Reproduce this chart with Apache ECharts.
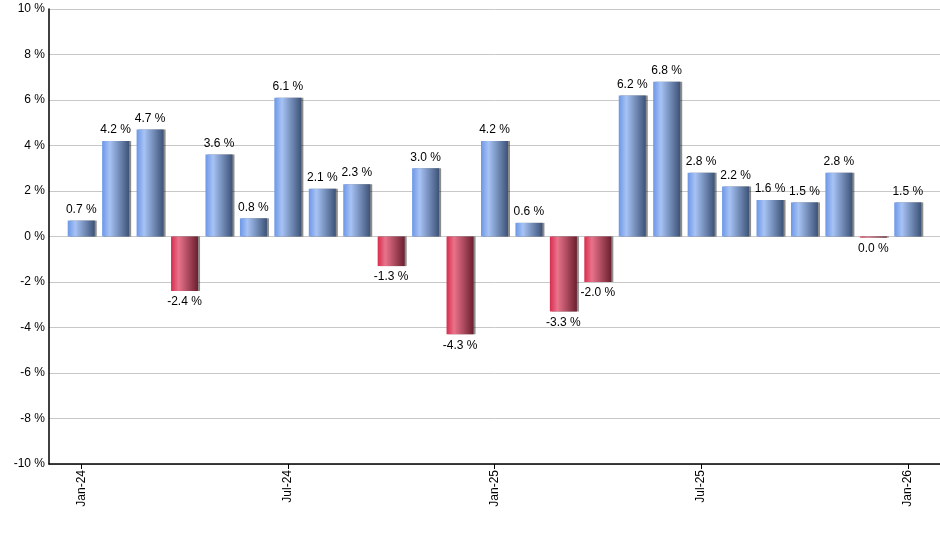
<!DOCTYPE html>
<html>
<head>
<meta charset="utf-8">
<script src="https://cdn.jsdelivr.net/npm/echarts@6/dist/echarts.min.js"></script>
<style>
  html, body { margin: 0; padding: 0; background: #fff; }
  #chart { width: 940px; height: 550px; }
</style>
</head>
<body>
<div id="chart"></div>
<script>
var months = ['Jan-24', 'Feb-24', 'Mar-24', 'Apr-24', 'May-24', 'Jun-24', 'Jul-24', 'Aug-24', 'Sep-24', 'Oct-24', 'Nov-24', 'Dec-24',
  'Jan-25', 'Feb-25', 'Mar-25', 'Apr-25', 'May-25', 'Jun-25', 'Jul-25', 'Aug-25', 'Sep-25', 'Oct-25', 'Nov-25', 'Dec-25', 'Jan-26'];
var returns = [0.7, 4.2, 4.7, -2.4, 3.6, 0.8, 6.1, 2.1, 2.3, -1.3, 3.0, -4.3,
  4.2, 0.6, -3.3, -2.0, 6.2, 6.8, 2.8, 2.2, 1.6, 1.5, 2.8, -0.05, 1.5];
var yMin = -10, yMax = 10, yStep = 2;

var dom = document.getElementById('chart');
var myChart = echarts.init(dom, null, { renderer: 'canvas' });

var blueFill = new echarts.graphic.LinearGradient(0, 0, 1, 0, [
  { offset: 0, color: '#6c96e6' },
  { offset: 0.28, color: '#a7c3f5' },
  { offset: 1, color: '#3c5277' }
]);
var redFill = new echarts.graphic.LinearGradient(0, 0, 1, 0, [
  { offset: 0, color: '#d62c4d' },
  { offset: 0.28, color: '#e9738b' },
  { offset: 1, color: '#6b1f2f' }
]);

function fmt(v) {
  return (Math.round(v * 10) / 10).toFixed(1) + ' %';
}

var barData = returns.map(function (v) {
  return {
    value: v,
    itemStyle: { color: v < 0 ? redFill : blueFill },
    label: { position: v < 0 ? 'bottom' : 'top' }
  };
});

var font = 'Liberation Sans, Arial, sans-serif';

var option = {
  animation: false,
  backgroundColor: '#fff',
  grid: [
    { left: 64, right: 15, top: 9, bottom: 86 },
    { left: 49, right: 0, top: 9, bottom: 86 }
  ],
  xAxis: [
    {
      type: 'category',
      gridIndex: 0,
      data: months,
      axisLine: { show: false, onZero: false },
      axisTick: { show: true, interval: 5, alignWithLabel: true, length: 5, lineStyle: { color: '#000' } },
      axisLabel: { interval: 5, rotate: 90, color: '#000', fontSize: 12, fontFamily: font, margin: 6 },
      splitLine: { show: false }
    },
    {
      type: 'value',
      gridIndex: 1,
      min: 0,
      max: 1,
      axisLine: { show: true, onZero: false, lineStyle: { color: '#000', width: 1.5 } },
      axisTick: { show: false },
      axisLabel: { show: false },
      splitLine: { show: false }
    }
  ],
  yAxis: [
    {
      type: 'value',
      gridIndex: 0,
      min: yMin,
      max: yMax,
      interval: yStep,
      show: false
    },
    {
      type: 'value',
      gridIndex: 1,
      min: yMin,
      max: yMax,
      interval: yStep,
      axisLine: { show: true, onZero: false, lineStyle: { color: '#000', width: 1.5 } },
      axisTick: { show: false },
      axisLabel: { color: '#000', fontSize: 12, fontFamily: font, margin: 4, formatter: '{value} %' },
      splitLine: { show: true, lineStyle: { color: '#c8c8c8', width: 1 } }
    }
  ],
  series: [
    {
      type: 'bar',
      xAxisIndex: 0,
      yAxisIndex: 0,
      data: barData,
      barWidth: 27,
      z: 3,
      itemStyle: {
        shadowColor: 'rgba(0,0,0,0.45)',
        shadowOffsetX: 2,
        shadowOffsetY: 0,
        shadowBlur: 0
      },
      label: {
        show: true,
        color: '#000',
        fontSize: 12,
        fontFamily: font,
        distance: 5,
        formatter: function (p) { return fmt(p.value); }
      }
    }
  ]
};

myChart.setOption(option);
window.addEventListener('resize', myChart.resize);
</script>
</body>
</html>
